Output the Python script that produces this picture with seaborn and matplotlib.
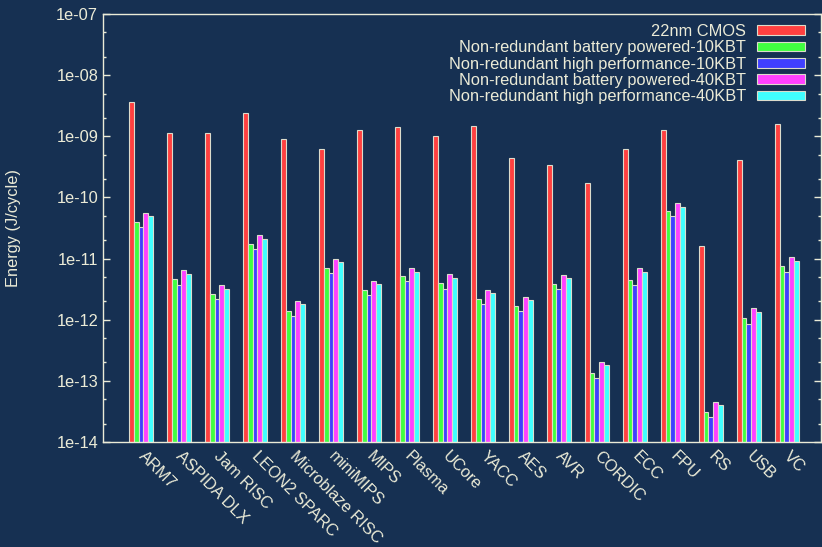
import matplotlib
matplotlib.use("Agg")
import matplotlib.pyplot as plt
import matplotlib.ticker as mticker
import matplotlib.transforms as mtransforms
import numpy as np
import pandas as pd
import seaborn as sns

# Benchmark designs
designs = ["ARM7", "ASPIDA DLX", "Jam RISC", "LEON2 SPARC", "Microblaze RISC",
           "miniMIPS", "MIPS", "Plasma", "UCore", "YACC", "AES", "AVR",
           "CORDIC", "ECC", "FPU", "RS", "USB", "VC"]

series_names = ["22nm CMOS",
                "Non-redundant battery powered-10KBT",
                "Non-redundant high performance-10KBT",
                "Non-redundant battery powered-40KBT",
                "Non-redundant high performance-40KBT"]

# Energy per cycle (J/cycle)
cmos_22nm = [3.68e-9, 1.12e-9, 1.13e-9, 2.37e-9, 9.1e-10, 6.12e-10, 1.27e-9, 1.42e-9,
             1.02e-9, 1.49e-9, 4.35e-10, 3.35e-10, 1.7e-10, 6.1e-10, 1.25e-9, 1.61e-11,
             4.05e-10, 1.57e-9]
nr_battery_10k = [4.0e-11, 4.57e-12, 2.63e-12, 1.75e-11, 1.40e-12, 7.0e-12, 3.1e-12, 5.13e-12,
                  3.94e-12, 2.2e-12, 1.67e-12, 3.84e-12, 1.34e-13, 4.46e-12, 5.9e-11, 3.13e-14,
                  1.05e-12, 7.5e-12]
nr_highperf_10k = [3.28e-11, 3.7e-12, 2.18e-12, 1.45e-11, 1.15e-12, 5.8e-12, 2.54e-12, 4.25e-12,
                   3.22e-12, 1.8e-12, 1.39e-12, 3.18e-12, 1.1e-13, 3.65e-12, 4.9e-11, 2.57e-14,
                   8.6e-13, 6.1e-12]
nr_battery_40k = [5.5e-11, 6.4e-12, 3.65e-12, 2.4e-11, 2.02e-12, 9.8e-12, 4.36e-12, 6.9e-12,
                  5.5e-12, 3.1e-12, 2.35e-12, 5.45e-12, 2.06e-13, 6.9e-12, 8.1e-11, 4.56e-14,
                  1.53e-12, 1.05e-11]
nr_highperf_40k = [4.9e-11, 5.66e-12, 3.23e-12, 2.11e-11, 1.78e-12, 8.7e-12, 3.84e-12, 6.1e-12,
                   4.86e-12, 2.73e-12, 2.07e-12, 4.75e-12, 1.82e-13, 6.1e-12, 7.1e-11, 4.03e-14,
                   1.35e-12, 9.25e-12]

colors = ["#ff4040", "#40ff40", "#4040ff", "#ff40ff", "#40ffff"]

y_ticks = [1e-14, 1e-13, 1e-12, 1e-11, 1e-10, 1e-9, 1e-8, 1e-7]

bg = "#163052"
fg = "#ebebd7"
fs = 11.8

rows = []
for name, vals in zip(series_names, [cmos_22nm, nr_battery_10k, nr_highperf_10k,
                                      nr_battery_40k, nr_highperf_40k]):
    for d, v in zip(designs, vals):
        rows.append({"design": d, "series": name, "energy": v})
df = pd.DataFrame(rows)

sns.set_style("ticks")
plt.rcParams["font.family"] = ["Liberation Sans", "DejaVu Sans"]

fig = plt.figure(figsize=(8.22, 5.47), dpi=100, facecolor=bg)
ax = fig.add_axes([103 / 822, 1 - 442 / 547, 718 / 822, 428 / 547])
ax.set_facecolor(bg)

sns.barplot(data=df, x="design", y="energy", hue="series", hue_order=series_names,
            order=designs, palette=colors, width=0.63, errorbar=None,
            edgecolor="#dcdccc", linewidth=0.8, saturation=1, log_scale=True, ax=ax)

ax.set_yscale("log")
ax.set_ylim(1e-14, 1e-7)
ax.set_xlim(-1, 17.9)

ax.yaxis.set_major_locator(mticker.FixedLocator(y_ticks))
ax.yaxis.set_major_formatter(mticker.FuncFormatter(lambda v, p: "1e-%02d" % round(-np.log10(v))))
ax.yaxis.set_minor_locator(mticker.LogLocator(base=10, subs=(2.0, 5.0), numticks=20))
ax.yaxis.set_minor_formatter(mticker.NullFormatter())

for side in ["left", "right", "top", "bottom"]:
    ax.spines[side].set_color(fg)
    ax.spines[side].set_linewidth(1.0)

ax.tick_params(axis="y", which="both", direction="in", left=True, right=True,
               colors=fg, labelcolor=fg, labelsize=fs, width=1.0)
ax.tick_params(axis="y", which="major", length=5)
ax.tick_params(axis="y", which="minor", length=2.5)
ax.tick_params(axis="x", bottom=False, top=False, labelcolor=fg, labelsize=fs, pad=2)

ax.set_xticks(range(len(designs)))
ax.set_xticklabels(designs, rotation=-45, ha="left", va="top", rotation_mode="anchor")
shift = mtransforms.ScaledTranslation(5 / 100, 1 / 100, fig.dpi_scale_trans)
for lbl in ax.get_xticklabels():
    lbl.set_transform(lbl.get_transform() + shift)
ax.set_xlabel("")
ax.set_ylabel("Energy (J/cycle)", color=fg, fontsize=fs)
ax.yaxis.set_label_coords(-0.114, 0.5)

handles, labels = ax.get_legend_handles_labels()
ax.legend(handles, labels, loc="upper right", bbox_to_anchor=(1 - 16 / 718, 1 - 10 / 428),
          frameon=False, markerfirst=False, fontsize=fs, labelcolor=fg,
          handlelength=2.9, handleheight=0.55, handletextpad=0.7,
          labelspacing=0.08, borderpad=0, borderaxespad=0)

fig.savefig("out.png", dpi=100, facecolor=bg)
